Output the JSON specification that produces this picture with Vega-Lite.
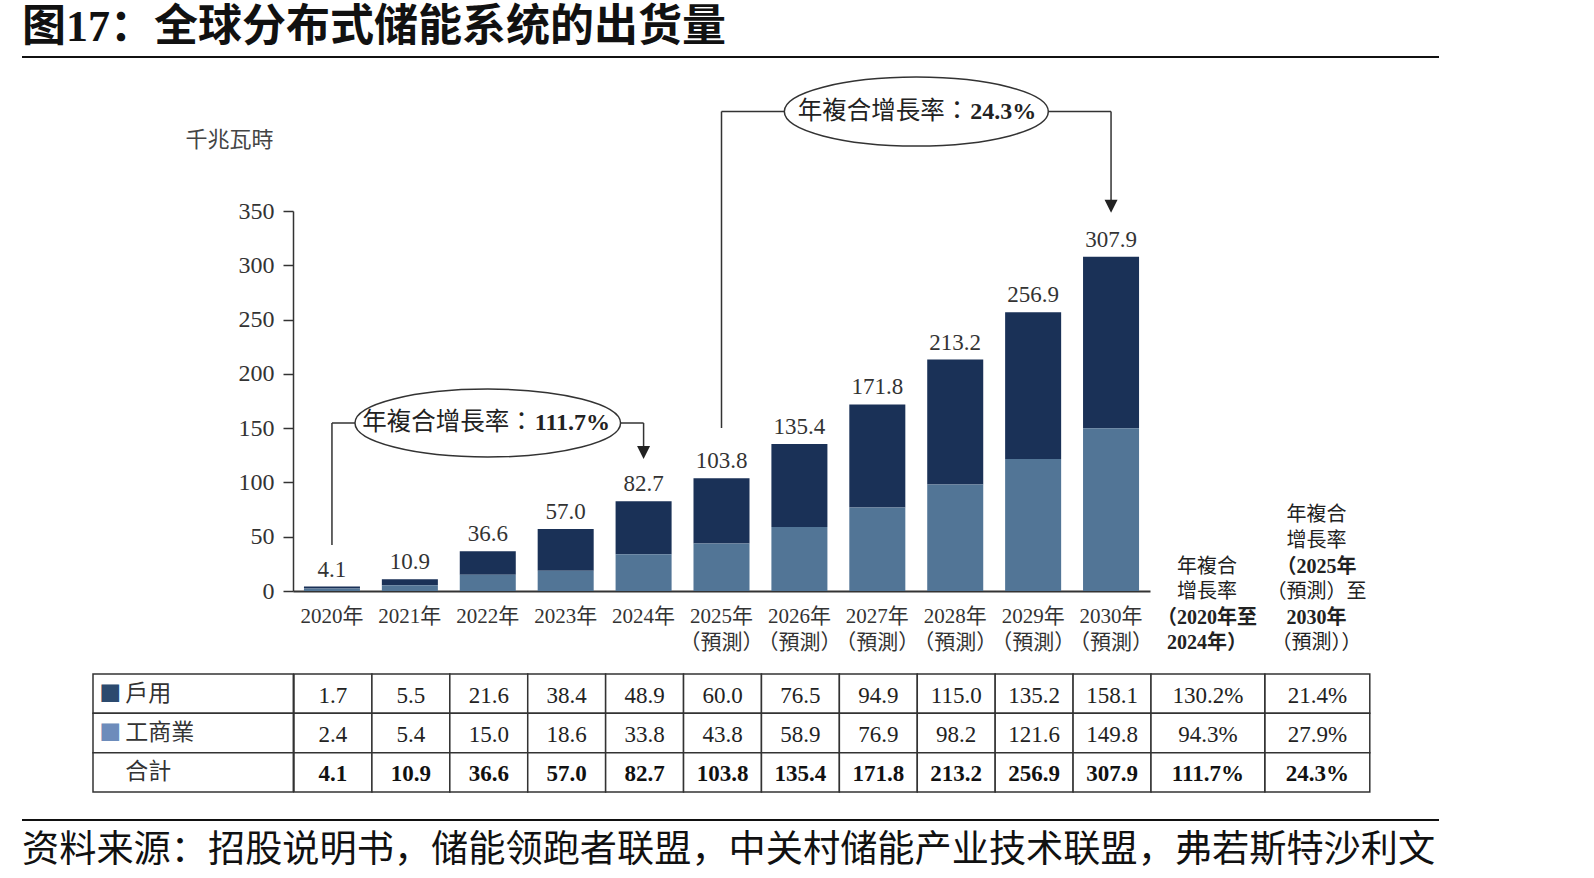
{
  "$schema": "https://vega.github.io/schema/vega-lite/v6.json",
  "autosize": {"type": "pad"},
  "padding": {"left": 22, "top": 6, "right": 10, "bottom": 5},
  "background": "white",
  "config": {"view": {"stroke": null}, "font": "Noto Sans CJK TC"},
  "datasets": {
    "vals": [
      {"year": "2020", "row": "戶用", "value": 1.7}, {"year": "2020", "row": "工商業", "value": 2.4}, {"year": "2020", "row": "合計", "value": 4.1},
      {"year": "2021", "row": "戶用", "value": 5.5}, {"year": "2021", "row": "工商業", "value": 5.4}, {"year": "2021", "row": "合計", "value": 10.9},
      {"year": "2022", "row": "戶用", "value": 21.6}, {"year": "2022", "row": "工商業", "value": 15.0}, {"year": "2022", "row": "合計", "value": 36.6},
      {"year": "2023", "row": "戶用", "value": 38.4}, {"year": "2023", "row": "工商業", "value": 18.6}, {"year": "2023", "row": "合計", "value": 57.0},
      {"year": "2024", "row": "戶用", "value": 48.9}, {"year": "2024", "row": "工商業", "value": 33.8}, {"year": "2024", "row": "合計", "value": 82.7},
      {"year": "2025", "row": "戶用", "value": 60.0}, {"year": "2025", "row": "工商業", "value": 43.8}, {"year": "2025", "row": "合計", "value": 103.8},
      {"year": "2026", "row": "戶用", "value": 76.5}, {"year": "2026", "row": "工商業", "value": 58.9}, {"year": "2026", "row": "合計", "value": 135.4},
      {"year": "2027", "row": "戶用", "value": 94.9}, {"year": "2027", "row": "工商業", "value": 76.9}, {"year": "2027", "row": "合計", "value": 171.8},
      {"year": "2028", "row": "戶用", "value": 115.0}, {"year": "2028", "row": "工商業", "value": 98.2}, {"year": "2028", "row": "合計", "value": 213.2},
      {"year": "2029", "row": "戶用", "value": 135.2}, {"year": "2029", "row": "工商業", "value": 121.6}, {"year": "2029", "row": "合計", "value": 256.9},
      {"year": "2030", "row": "戶用", "value": 158.1}, {"year": "2030", "row": "工商業", "value": 149.8}, {"year": "2030", "row": "合計", "value": 307.9}
    ],
    "cagr": [
      {"col": "c1", "row": "戶用", "pct": 1.302}, {"col": "c1", "row": "工商業", "pct": 0.943}, {"col": "c1", "row": "合計", "pct": 1.117},
      {"col": "c2", "row": "戶用", "pct": 0.214}, {"col": "c2", "row": "工商業", "pct": 0.279}, {"col": "c2", "row": "合計", "pct": 0.243}
    ],
    "heads": [
      {"col": "c1", "line": 4, "text": "年複合"}, {"col": "c1", "line": 3, "text": "增長率"}, {"col": "c1", "line": 2, "text": "（2020年至"}, {"col": "c1", "line": 1, "text": "2024年）"},
      {"col": "c2", "line": 6, "text": "年複合"}, {"col": "c2", "line": 5, "text": "增長率"}, {"col": "c2", "line": 4, "text": "（2025年"}, {"col": "c2", "line": 3, "text": "（預測）至"}, {"col": "c2", "line": 2, "text": "2030年"}, {"col": "c2", "line": 1, "text": "（預測））"}
    ],
    "rows": [{"row": "戶用"}, {"row": "工商業"}, {"row": "合計"}]
  },
  "spacing": 0,
  "resolve": {"scale": {"x": "independent", "y": "independent", "color": "independent"}},
  "vconcat": [
    {
      "width": 1417, "height": 2,
      "view": {"fill": "#111", "stroke": null},
      "title": {"text": "图17：全球分布式储能系统的出货量", "orient": "top", "anchor": "start", "font": "Liberation Serif, Noto Sans CJK SC", "fontSize": 44, "fontWeight": "bold", "color": "#111", "offset": -43, "baseline": "bottom"},
      "data": {"values": [{}]},
      "mark": {"type": "text", "text": ""}
    },
    {"width": 10, "height": 8.1, "data": {"values": [{}]}, "mark": {"type": "text", "text": ""}},
    {
      "spacing": 0,
      "bounds": "flush",
      "resolve": {"scale": {"x": "independent", "y": "independent", "color": "independent"}},
      "hconcat": [
        {"width": 270.8, "height": 380, "data": {"values": [{}]}, "mark": {"type": "text", "text": ""}},
        {
          "width": 857, "height": 380,
          "layer": [
            {
              "data": {"name": "vals"},
              "transform": [{"filter": "datum.row !== '合計'"}],
              "mark": {"type": "bar"},
              "encoding": {
                "x": {"field": "year", "type": "nominal", "scale": {"paddingInner": 0.281, "paddingOuter": 0.1405},
                  "axis": {"title": null, "ticks": false, "labelAngle": 0, "labelExpr": "toNumber(datum.value) >= 2025 ? [datum.value + '年', '（預測）'] : datum.value + '年'", "labelFont": "Liberation Serif, Noto Sans CJK TC", "labelFontSize": 21, "labelColor": "#333", "labelPadding": 14, "labelLineHeight": 26, "labelOverlap": false, "domainColor": "#333", "domainWidth": 2, "grid": false}},
                "y": {"field": "value", "type": "quantitative", "stack": "zero", "scale": {"domain": [0, 350], "nice": false},
                  "axis": {"title": "千兆瓦時", "values": [0, 50, 100, 150, 200, 250, 300, 350], "grid": false, "tickSize": 10, "tickColor": "#333", "tickWidth": 1.5, "domainColor": "#333", "domainWidth": 1.5, "labelFont": "Liberation Serif", "labelFontSize": 24, "labelColor": "#333", "labelPadding": 9, "titleAngle": 0, "titleX": -64, "titleY": -72, "titleAlign": "center", "titleBaseline": "middle", "titleFont": "Noto Sans CJK TC", "titleFontSize": 22, "titleFontWeight": "normal", "titleColor": "#444"}},
                "color": {"field": "row", "type": "nominal", "scale": {"domain": ["戶用", "工商業"], "range": ["#1a3157", "#527596"]}, "legend": null},
                "order": {"field": "row", "sort": "ascending"}
              }
            },
            {
              "data": {"name": "vals"},
              "transform": [{"filter": "datum.row === '合計'"}],
              "mark": {"type": "text", "baseline": "alphabetic", "dy": -10, "font": "Liberation Serif", "fontSize": 23, "color": "#333"},
              "encoding": {
                "x": {"field": "year", "type": "nominal"},
                "y": {"field": "value", "type": "quantitative"},
                "text": {"field": "value", "type": "quantitative", "format": ".1f"}
              }
            },
            {"data": {"values": [{}]}, "mark": {"type": "rule", "color": "#333", "strokeWidth": 1.5},
              "encoding": {"x": {"datum": "2020", "type": "nominal"}, "y": {"datum": 42.4, "type": "quantitative"}, "y2": {"datum": 154.7}}},
            {"data": {"values": [{}]}, "mark": {"type": "rule", "color": "#333", "strokeWidth": 1.5},
              "encoding": {"x": {"datum": "2020", "type": "nominal"}, "x2": {"datum": "2024"}, "y": {"datum": 154.7, "type": "quantitative"}}},
            {"data": {"values": [{}]}, "mark": {"type": "rule", "color": "#333", "strokeWidth": 1.5},
              "encoding": {"x": {"datum": "2024", "type": "nominal"}, "y": {"datum": 154.7, "type": "quantitative"}, "y2": {"datum": 127.6}}},
            {"data": {"values": [{}]}, "mark": {"type": "rule", "color": "#333", "strokeWidth": 1.5},
              "encoding": {"x": {"datum": "2025", "type": "nominal"}, "y": {"datum": 150.1, "type": "quantitative"}, "y2": {"datum": 441.6}}},
            {"data": {"values": [{}]}, "mark": {"type": "rule", "color": "#333", "strokeWidth": 1.5},
              "encoding": {"x": {"datum": "2025", "type": "nominal"}, "x2": {"datum": "2030"}, "y": {"datum": 441.6, "type": "quantitative"}}},
            {"data": {"values": [{}]}, "mark": {"type": "rule", "color": "#333", "strokeWidth": 1.5},
              "encoding": {"x": {"datum": "2030", "type": "nominal"}, "y": {"datum": 441.6, "type": "quantitative"}, "y2": {"datum": 354.4}}},
            {"data": {"values": [{}]},
              "mark": {"type": "point", "shape": "M-1,0C-1,-0.1414,-0.5523,-0.256,0,-0.256C0.5523,-0.256,1,-0.1414,1,0C1,0.1414,0.5523,0.256,0,0.256C-0.5523,0.256,-1,0.1414,-1,0Z", "size": 70547, "filled": true, "fill": "white", "stroke": "#333", "strokeWidth": 1.5, "opacity": 1},
              "encoding": {"x": {"datum": "2022", "type": "nominal"}, "y": {"datum": 154.7, "type": "quantitative"}}},
            {"data": {"values": [{}]},
              "mark": {"type": "point", "shape": "M-1,0C-1,-0.1442,-0.5523,-0.261,0,-0.261C0.5523,-0.261,1,-0.1442,1,0C1,0.1442,0.5523,0.261,0,0.261C-0.5523,0.261,-1,0.1442,-1,0Z", "size": 69696, "filled": true, "fill": "white", "stroke": "#333", "strokeWidth": 1.5, "opacity": 1, "xOffset": 39},
              "encoding": {"x": {"datum": "2027", "type": "nominal"}, "y": {"datum": 441.6, "type": "quantitative"}}},
            {"data": {"values": [{}]},
              "mark": {"type": "text", "text": "年複合增長率：", "align": "right", "dx": 46, "baseline": "middle", "font": "Noto Sans CJK TC", "fontSize": 24.5, "color": "#222"},
              "encoding": {"x": {"datum": "2022", "type": "nominal"}, "y": {"datum": 154.7, "type": "quantitative"}}},
            {"data": {"values": [{}]},
              "mark": {"type": "text", "text": "111.7%", "align": "left", "dx": 47, "baseline": "middle", "font": "Liberation Serif", "fontSize": 24, "fontWeight": "bold", "color": "#222"},
              "encoding": {"x": {"datum": "2022", "type": "nominal"}, "y": {"datum": 154.7, "type": "quantitative"}}},
            {"data": {"values": [{}]},
              "mark": {"type": "text", "text": "年複合增長率：", "align": "right", "dx": 92, "baseline": "middle", "font": "Noto Sans CJK TC", "fontSize": 24.5, "color": "#222"},
              "encoding": {"x": {"datum": "2027", "type": "nominal"}, "y": {"datum": 441.6, "type": "quantitative"}}},
            {"data": {"values": [{}]},
              "mark": {"type": "text", "text": "24.3%", "align": "left", "dx": 93, "baseline": "middle", "font": "Liberation Serif", "fontSize": 24, "fontWeight": "bold", "color": "#222"},
              "encoding": {"x": {"datum": "2027", "type": "nominal"}, "y": {"datum": 441.6, "type": "quantitative"}}},
            {"data": {"values": [{}]},
              "mark": {"type": "point", "shape": "M-1,-1L1,-1L0,1Z", "size": 169, "filled": true, "color": "#222", "opacity": 1},
              "encoding": {"x": {"datum": "2024", "type": "nominal"}, "y": {"datum": 127.6, "type": "quantitative"}}},
            {"data": {"values": [{}]},
              "mark": {"type": "point", "shape": "M-1,-1L1,-1L0,1Z", "size": 169, "filled": true, "color": "#222", "opacity": 1},
              "encoding": {"x": {"datum": "2030", "type": "nominal"}, "y": {"datum": 354.4, "type": "quantitative"}}}
          ]
        },
        {
          "width": 113.8, "height": 462,
          "data": {"name": "heads"},
          "transform": [{"filter": "datum.col === 'c1'"}],
          "encoding": {
            "y": {"field": "line", "type": "quantitative", "scale": {"domain": [-0.156, 17.89], "nice": false, "zero": false}, "axis": null},
            "text": {"field": "text"}
          },
          "layer": [
            {"transform": [{"filter": "test(regexp('[0-9]'), datum.text)"}], "mark": {"type": "text", "baseline": "middle", "font": "Liberation Serif, Noto Sans CJK TC", "fontSize": 20, "fontWeight": "bold", "color": "#222"}},
            {"transform": [{"filter": "!test(regexp('[0-9]'), datum.text)"}], "mark": {"type": "text", "baseline": "middle", "font": "Noto Sans CJK TC", "fontSize": 20, "color": "#222"}}
          ]
        },
        {
          "width": 104.8, "height": 462,
          "data": {"name": "heads"},
          "transform": [{"filter": "datum.col === 'c2'"}],
          "encoding": {
            "y": {"field": "line", "type": "quantitative", "scale": {"domain": [-0.156, 17.89], "nice": false, "zero": false}, "axis": null},
            "text": {"field": "text"}
          },
          "layer": [
            {"transform": [{"filter": "test(regexp('[0-9]'), datum.text)"}], "mark": {"type": "text", "baseline": "middle", "font": "Liberation Serif, Noto Sans CJK TC", "fontSize": 20, "fontWeight": "bold", "color": "#222"}},
            {"transform": [{"filter": "!test(regexp('[0-9]'), datum.text)"}], "mark": {"type": "text", "baseline": "middle", "font": "Noto Sans CJK TC", "fontSize": 20, "color": "#222"}}
          ]
        }
      ]
    },
    {
      "spacing": 0,
      "bounds": "flush",
      "resolve": {"scale": {"x": "independent", "y": "independent", "color": "independent"}},
      "hconcat": [
        {"width": 70.5, "height": 118, "data": {"values": [{}]}, "mark": {"type": "text", "text": ""}},
        {
          "width": 200.3, "height": 118,
          "data": {"name": "rows"},
          "encoding": {
            "y": {"field": "row", "type": "nominal", "scale": {"domain": ["戶用", "工商業", "合計"], "paddingInner": 0, "paddingOuter": 0}, "axis": null}
          },
          "layer": [
            {"mark": {"type": "rect", "fill": "white", "stroke": "#333", "strokeWidth": 1.5},
              "encoding": {"x": {"datum": "lbl", "type": "nominal", "scale": {"paddingInner": 0, "paddingOuter": 0}, "axis": null}}},
            {"transform": [{"filter": "datum.row !== '合計'"}],
              "mark": {"type": "text", "text": "■", "align": "left", "dx": -94, "baseline": "middle", "font": "Noto Sans CJK TC", "fontSize": 22},
              "encoding": {"color": {"condition": {"test": "datum.row === '戶用'", "value": "#2c4a6e"}, "value": "#6d8cbb"}}},
            {"mark": {"type": "text", "align": "left", "dx": -68, "baseline": "middle", "font": "Noto Sans CJK TC", "fontSize": 23, "color": "#333"},
              "encoding": {"text": {"field": "row"}}}
          ]
        },
        {
          "width": 857, "height": 118,
          "data": {"name": "vals"},
          "encoding": {
            "x": {"field": "year", "type": "nominal", "scale": {"paddingInner": 0, "paddingOuter": 0}, "axis": null},
            "y": {"field": "row", "type": "nominal", "scale": {"domain": ["戶用", "工商業", "合計"], "paddingInner": 0, "paddingOuter": 0}, "axis": null}
          },
          "layer": [
            {"mark": {"type": "rect", "fill": "white", "stroke": "#333", "strokeWidth": 1.5}},
            {"transform": [{"filter": "datum.row !== '合計'"}], "mark": {"type": "text", "font": "Liberation Serif", "fontSize": 23, "color": "#222", "baseline": "middle", "dy": 2},
              "encoding": {"text": {"field": "value", "type": "quantitative", "format": ".1f"}}},
            {"transform": [{"filter": "datum.row === '合計'"}], "mark": {"type": "text", "font": "Liberation Serif", "fontSize": 23, "fontWeight": "bold", "color": "#111", "baseline": "middle", "dy": 2},
              "encoding": {"text": {"field": "value", "type": "quantitative", "format": ".1f"}}}
          ]
        },
        {
          "width": 113.8, "height": 118,
          "data": {"name": "cagr"},
          "transform": [{"filter": "datum.col === 'c1'"}],
          "encoding": {
            "x": {"field": "col", "type": "nominal", "scale": {"paddingInner": 0, "paddingOuter": 0}, "axis": null},
            "y": {"field": "row", "type": "nominal", "scale": {"domain": ["戶用", "工商業", "合計"], "paddingInner": 0, "paddingOuter": 0}, "axis": null}
          },
          "layer": [
            {"mark": {"type": "rect", "fill": "white", "stroke": "#333", "strokeWidth": 1.5}},
            {"transform": [{"filter": "datum.row !== '合計'"}], "mark": {"type": "text", "font": "Liberation Serif", "fontSize": 23, "color": "#222", "baseline": "middle", "dy": 2},
              "encoding": {"text": {"field": "pct", "type": "quantitative", "format": ".1%"}}},
            {"transform": [{"filter": "datum.row === '合計'"}], "mark": {"type": "text", "font": "Liberation Serif", "fontSize": 23, "fontWeight": "bold", "color": "#111", "baseline": "middle", "dy": 2},
              "encoding": {"text": {"field": "pct", "type": "quantitative", "format": ".1%"}}}
          ]
        },
        {
          "width": 104.8, "height": 118,
          "data": {"name": "cagr"},
          "transform": [{"filter": "datum.col === 'c2'"}],
          "encoding": {
            "x": {"field": "col", "type": "nominal", "scale": {"paddingInner": 0, "paddingOuter": 0}, "axis": null},
            "y": {"field": "row", "type": "nominal", "scale": {"domain": ["戶用", "工商業", "合計"], "paddingInner": 0, "paddingOuter": 0}, "axis": null}
          },
          "layer": [
            {"mark": {"type": "rect", "fill": "white", "stroke": "#333", "strokeWidth": 1.5}},
            {"transform": [{"filter": "datum.row !== '合計'"}], "mark": {"type": "text", "font": "Liberation Serif", "fontSize": 23, "color": "#222", "baseline": "middle", "dy": 2},
              "encoding": {"text": {"field": "pct", "type": "quantitative", "format": ".1%"}}},
            {"transform": [{"filter": "datum.row === '合計'"}], "mark": {"type": "text", "font": "Liberation Serif", "fontSize": 23, "fontWeight": "bold", "color": "#111", "baseline": "middle", "dy": 2},
              "encoding": {"text": {"field": "pct", "type": "quantitative", "format": ".1%"}}}
          ]
        }
      ]
    },
    {"width": 10, "height": 20.3, "data": {"values": [{}]}, "mark": {"type": "text", "text": ""}},
    {
      "width": 1417, "height": 2,
      "view": {"fill": "#111", "stroke": null},
      "title": {"text": "资料来源：招股说明书，储能领跑者联盟，中关村储能产业技术联盟，弗若斯特沙利文", "orient": "bottom", "anchor": "start", "font": "Noto Sans CJK SC", "fontSize": 37.2, "fontWeight": "normal", "color": "#111", "offset": 8, "baseline": "top"},
      "data": {"values": [{}]},
      "mark": {"type": "text", "text": ""}
    }
  ]
}
